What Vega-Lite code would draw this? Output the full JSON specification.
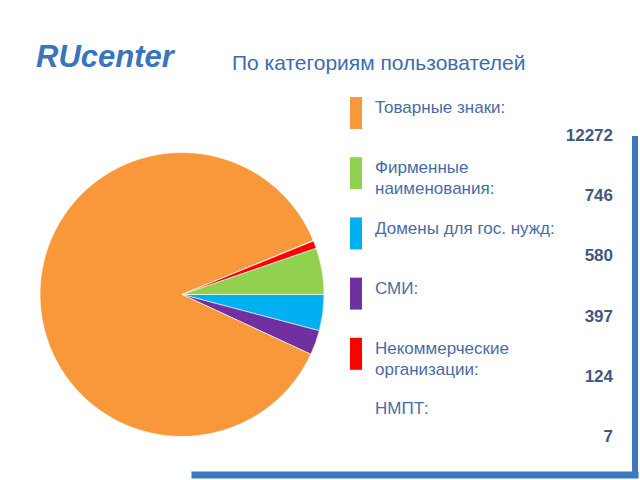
{
  "$schema": "https://vega.github.io/schema/vega-lite/v6.json",
  "autosize": {"type": "none"},
  "padding": {"left": 40, "top": 114, "right": 600, "bottom": 366},
  "background": "white",
  "config": {"view": {"stroke": null}, "font": "Liberation Sans"},
  "bounds": "flush",
  "spacing": 26,
  "data": {
    "values": [
      {"category": "Домены для гос. нужд:", "value": 580},
      {"category": "СМИ:", "value": 397},
      {"category": "Товарные знаки:", "value": 12272},
      {"category": "НМПТ:", "value": 7},
      {"category": "Некоммерческие\nорганизации:", "value": 124},
      {"category": "Фирменные\nнаименования:", "value": 746}
    ]
  },
  "hconcat": [
    {
      "width": 284,
      "height": 361,
      "title": {"text": "RUcenter", "anchor": "start", "frame": "group", "dx": -4, "offset": 40, "fontSize": 31, "fontWeight": "bold", "fontStyle": "italic", "color": "#3a74ba", "font": "Liberation Sans"},
      "transform": [{"window": [{"op": "row_number", "as": "k"}]}],
      "mark": {"type": "arc", "stroke": "white", "strokeWidth": 0.6},
      "encoding": {
        "theta": {"field": "value", "type": "quantitative", "stack": true, "scale": {"range": [1.5708, 7.854]}},
        "order": {"field": "k", "type": "quantitative"},
        "color": {
          "field": "category", "type": "nominal", "legend": null,
          "scale": {
            "domain": ["Товарные знаки:", "Фирменные\nнаименования:", "Домены для гос. нужд:", "СМИ:", "Некоммерческие\nорганизации:", "НМПТ:"],
            "range": ["#f8983a", "#92d050", "#00b0f0", "#7030a0", "#ff0000", "#ffffff"]
          }
        }
      }
    },
    {
      "width": 285,
      "height": 361,
      "title": {"text": "По категориям пользователей", "anchor": "start", "frame": "group", "dx": -118, "offset": 23, "fontSize": 21, "fontWeight": "normal", "color": "#3d6cad", "font": "Liberation Sans"},
      "layer": [
        {
          "mark": {"type": "rect"},
          "encoding": {
            "y": {
              "field": "category", "type": "nominal", "axis": null,
              "sort": ["Товарные знаки:", "Фирменные\nнаименования:", "Домены для гос. нужд:", "СМИ:", "Некоммерческие\nорганизации:", "НМПТ:"],
              "scale": {"range": [-17, 316], "paddingInner": 0.469, "paddingOuter": 0}
            },
            "x": {"value": 0},
            "x2": {"value": 12},
            "color": {
              "field": "category", "type": "nominal", "legend": null,
              "scale": {
                "domain": ["Товарные знаки:", "Фирменные\nнаименования:", "Домены для гос. нужд:", "СМИ:", "Некоммерческие\nорганизации:", "НМПТ:"],
                "range": ["#f8983a", "#92d050", "#00b0f0", "#7030a0", "#ff0000", "#ffffff"]
              }
            }
          }
        },
        {
          "mark": {"type": "text", "align": "left", "baseline": "top", "fontSize": 17, "lineBreak": "\n", "lineHeight": 21, "color": "#4a6ca6", "x": 25},
          "encoding": {
            "y": {"field": "category", "type": "nominal", "bandPosition": 0.1, "sort": ["Товарные знаки:", "Фирменные\nнаименования:", "Домены для гос. нужд:", "СМИ:", "Некоммерческие\nорганизации:", "НМПТ:"]},
            "text": {"field": "category", "type": "nominal"}
          }
        },
        {
          "mark": {"type": "text", "align": "right", "baseline": "middle", "fontSize": 17, "fontWeight": "bold", "color": "#41587f", "x": "width", "dx": -22},
          "encoding": {
            "y": {"field": "category", "type": "nominal", "bandPosition": 1.22, "sort": ["Товарные знаки:", "Фирменные\nнаименования:", "Домены для гос. нужд:", "СМИ:", "Некоммерческие\nорганизации:", "НМПТ:"]},
            "text": {"field": "value", "type": "quantitative", "format": "d"}
          }
        },
        {
          "data": {"values": [{"frame": "right"}]},
          "mark": {"type": "rule", "color": "#3b78c0", "strokeWidth": 6},
          "encoding": {
            "x": {"value": "width"},
            "y": {"value": 22},
            "y2": {"value": "height"}
          }
        },
        {
          "data": {"values": [{"frame": "bottom"}]},
          "mark": {"type": "rule", "color": "#3b78c0", "strokeWidth": 7, "strokeCap": "square"},
          "encoding": {
            "x": {"value": -155},
            "x2": {"value": "width"},
            "y": {"value": "height"}
          }
        }
      ]
    }
  ]
}
